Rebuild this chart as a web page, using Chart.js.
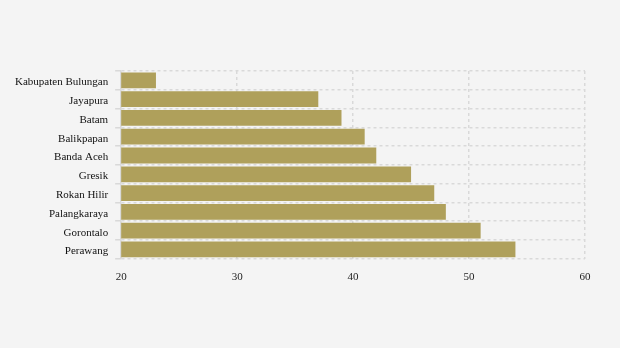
<!DOCTYPE html>
<html>
<head>
<meta charset="utf-8">
<script src="https://cdn.jsdelivr.net/npm/chart.js@4"></script>
<style>
  html, body { margin: 0; padding: 0; background: #f4f4f4; }
  #wrap { width: 620px; height: 348px; }
</style>
</head>
<body>
<div id="wrap"><canvas id="myChart" width="620" height="348"></canvas></div>
<script>
const kota = ["Kabupaten Bulungan", "Jayapura", "Batam", "Balikpapan", "Banda Aceh",
              "Gresik", "Rokan Hilir", "Palangkaraya", "Gorontalo", "Perawang"];
const nilai = [23, 37, 39, 41, 42, 45, 47, 48, 51, 54];
const tickX = [20, 30, 40, 50, 60];

Chart.defaults.font.family = "'Liberation Serif', 'Times New Roman', serif";
Chart.defaults.color = "#222";

new Chart("myChart", {
    type: "bar",
    data: {
        labels: kota,
        datasets: [{
            data: nilai,
            backgroundColor: "#afa05b",
            barPercentage: 0.84,
            categoryPercentage: 1
        }]
    },
    options: {
        indexAxis: "y",
        responsive: false,
        animation: false,
        layout: { padding: { left: 8, right: 35, top: 71, bottom: 52 } },
        plugins: { legend: { display: false }, tooltip: { enabled: false } },
        scales: {
            x: {
                min: 20, max: 60,
                afterBuildTicks: axis => { axis.ticks = tickX.map(v => ({ value: v })); },
                grid: { color: "#d9d9d9", lineWidth: 1.5, drawTicks: false },
                border: { display: false, dash: [3, 3] },
                ticks: { font: { size: 11 }, color: "#222", padding: 12 }
            },
            y: {
                grid: { color: "#d9d9d9", lineWidth: 1.5, offset: true, tickLength: 6, tickColor: "#d9d9d9" },
                border: { display: true, color: "#d9d9d9", width: 1.5, dash: [3, 3] },
                ticks: { font: { size: 11 }, color: "#111", padding: 7, labelOffset: 2 }
            }
        }
    }
});
</script>
</body>
</html>
